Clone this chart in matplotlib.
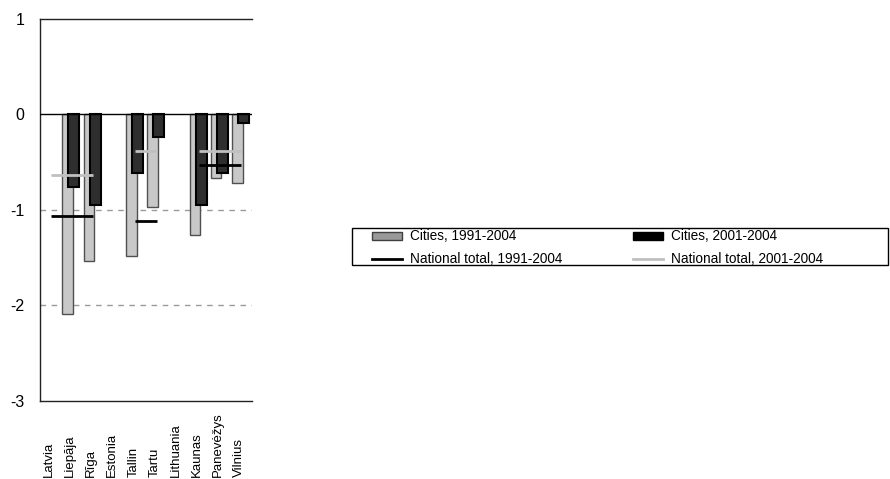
import numpy as np
import matplotlib
matplotlib.use("Agg")
import matplotlib.pyplot as plt
from matplotlib.patches import Patch, Rectangle
from matplotlib.lines import Line2D

plt.rcParams["font.family"] = ["Liberation Sans", "DejaVu Sans"]
plt.rcParams["axes.unicode_minus"] = False

categories = ["Latvia", "Liepāja", "Rīga", "Estonia", "Tallin", "Tartu",
              "Lithuania", "Kaunas", "Panevėžys", "Vilnius"]
cities_1991_2004 = [np.nan, -2.09, -1.54, np.nan, -1.48, -0.97, np.nan, -1.26, -0.67, -0.72]
cities_2001_2004 = [np.nan, -0.76, -0.95, np.nan, -0.61, -0.24, np.nan, -0.95, -0.61, -0.09]

# national totals drawn as flat lines across each country's cities
national_span = [("Latvia", "Rīga"), ("Tallin", "Tartu"), ("Kaunas", "Vilnius")]
national_1991_2004 = [-1.06, -1.12, -0.53]
national_2001_2004 = [-0.63, -0.38, -0.38]

y_ticks = [1, 0, -1, -2, -3]

LIGHT = "#c8c8c8"
DARK = "#2e2e2e"

fig = plt.figure(figsize=(8.9, 4.79), dpi=100)
ax = fig.add_axes([40 / 890, 1 - 400.7 / 479, 212 / 890, 381.7 / 479])

x = np.arange(len(categories))
ax.bar(x - 0.19, cities_1991_2004, width=0.5, color=LIGHT, edgecolor="#505050",
       linewidth=1.0, zorder=3)
ax.bar(x + 0.1, cities_2001_2004, width=0.52, color=DARK, edgecolor="#000000",
       linewidth=1.5, zorder=4)

for (a, b), v91, v01 in zip(national_span, national_1991_2004, national_2001_2004):
    xs = [categories.index(a), categories.index(b)]
    ax.plot(xs, [v01, v01], color="#c0c0c0", linewidth=2, zorder=5,
            solid_capstyle="butt")
    ax.plot(xs, [v91, v91], color="#000000", linewidth=2, zorder=5,
            solid_capstyle="butt")

ax.axhline(0, color="black", linewidth=1.0, zorder=6)
for g in (-1, -2):
    ax.axhline(g, color="#9a9a9a", linewidth=1.0, linestyle=(0, (4, 4)), zorder=1)

ax.set_xlim(-0.5, len(categories) - 0.5)
ax.set_ylim(-3, 1)
ax.set_yticks(y_ticks)
ax.set_yticklabels([str(t) for t in y_ticks], fontsize=11.5)
ax.tick_params(axis="y", length=0, pad=11)
ax.set_xticks([])

ax.spines["right"].set_visible(False)
for s in ("left", "top", "bottom"):
    ax.spines[s].set_color("#222222")
    ax.spines[s].set_linewidth(1.0)

for i, name in enumerate(categories):
    ax.text(i - 0.1, -0.2, name, transform=ax.get_xaxis_transform(),
            rotation=90, ha="center", va="bottom", fontsize=9.5)

handles = [
    Patch(facecolor="#999999", edgecolor="#404040", linewidth=1.0, label="Cities, 1991-2004"),
    Line2D([], [], color="black", linewidth=2, label="National total, 1991-2004"),
    Patch(facecolor="black", edgecolor="black", label="Cities, 2001-2004"),
    Line2D([], [], color="#c0c0c0", linewidth=2, label="National total, 2001-2004"),
]
fig.legend(handles=handles, loc="upper left", bbox_to_anchor=(372 / 890, 1 - 229.5 / 479),
           ncol=2, frameon=False, fontsize=9.8, borderpad=0, borderaxespad=0,
           handlelength=2.2, handleheight=0.5, handletextpad=0.6,
           columnspacing=5.15, labelspacing=0.62)
fig.patches.append(Rectangle((351.7 / 890, 1 - 265 / 479), (888 - 351.7) / 890, 37 / 479,
                             transform=fig.transFigure, fill=False,
                             edgecolor="black", linewidth=1.0))

fig.savefig("out.png", dpi=100)
